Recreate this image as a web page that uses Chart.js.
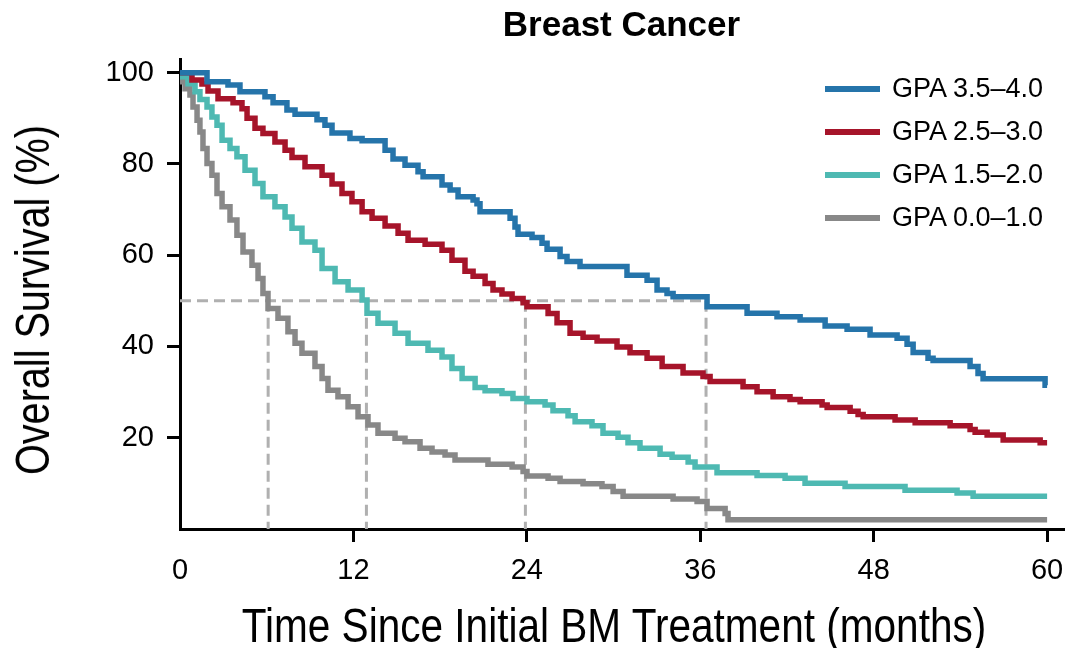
<!DOCTYPE html>
<html>
<head>
<meta charset="utf-8">
<title>Breast Cancer</title>
<script src="https://cdn.jsdelivr.net/npm/chart.js@4.4.1/dist/chart.umd.min.js"></script>
<style>
  html, body { margin: 0; padding: 0; background: #fff; }
  #wrap { position: relative; width: 1071px; height: 648px; }
  #legend {
    position: absolute; left: 825px; top: 67px;
    font: 27px 'Liberation Sans', Arial, sans-serif; color: #000;
  }
  #legend .row { display: flex; align-items: center; height: 43px; }
  #legend .swatch { width: 55px; height: 6px; margin-right: 12px; }
  /* axis titles are set in a condensed cut of the sans face */
  .axis-title {
    position: absolute; white-space: nowrap;
    font: 48px/48px 'Liberation Sans', Arial, sans-serif; color: #000;
  }
  #xTitle { left: 614px; top: 602px; transform: translateX(-50%) scaleX(0.845); }
  #yTitle { left: 33px; top: 300px; transform: translate(-50%, -50%) rotate(-90deg) scaleX(0.825); }
</style>
</head>
<body>
<div id="wrap">
  <canvas id="kmChart" width="1071" height="648"></canvas>
  <div id="legend"></div>
  <div id="xTitle" class="axis-title"></div>
  <div id="yTitle" class="axis-title"></div>
</div>
<script>
// Kaplan-Meier steps: month of each drop and survival (%) after it
var gpa35Months = [0, 1.87, 3.32, 4.15, 5.88, 6.44, 7.40, 7.96, 9.48, 10.03, 10.52, 11.76, 12.60, 14.19, 14.74, 15.57, 16.47, 16.82, 18.13, 18.69, 19.24, 20.28, 20.55, 20.76, 22.84, 23.18, 23.39, 24.36, 25.05, 25.40, 26.30, 26.78, 27.68, 30.93, 32.32, 33.01, 33.70, 34.12, 36.47, 39.24, 41.31, 42.91, 44.64, 46.16, 47.75, 49.62, 50.31, 50.73, 51.76, 52.11, 54.67, 55.22, 55.57, 59.86, 60];
var gpa35Survival = [100, 98.0, 97.3, 95.8, 94.7, 93.4, 91.8, 90.9, 89.7, 88.5, 86.8, 85.6, 85.1, 83.0, 81.1, 79.7, 78.3, 77.2, 75.4, 74.3, 72.8, 72.1, 71.3, 69.5, 68.1, 66.2, 64.6, 63.9, 62.6, 61.3, 59.7, 58.6, 57.5, 55.6, 54.5, 52.4, 51.6, 50.9, 48.7, 47.3, 46.5, 45.8, 44.5, 43.8, 42.5, 41.8, 40.5, 38.7, 37.4, 36.9, 35.6, 34.1, 32.9, 31.5, 31.5];

var gpa25Months = [0, 0.83, 1.52, 1.94, 2.63, 3.67, 4.29, 4.64, 5.19, 5.74, 6.57, 7.27, 7.75, 8.65, 9.83, 10.52, 11.21, 11.90, 12.60, 13.29, 14.19, 15.09, 15.78, 16.96, 18.13, 18.82, 19.72, 20.28, 21.11, 21.66, 22.28, 22.98, 23.74, 24.01, 25.47, 26.09, 26.99, 27.89, 28.86, 30.24, 31.14, 32.32, 33.36, 34.81, 36.19, 36.68, 38.96, 39.93, 41.04, 42.21, 42.91, 44.43, 44.78, 46.37, 46.92, 47.27, 49.48, 50.87, 53.29, 54.67, 55.02, 55.85, 56.96, 59.52, 60];
var gpa25Survival = [100, 98.4, 97.5, 96.0, 94.3, 93.4, 92.1, 90.0, 87.8, 86.7, 84.8, 83.0, 81.4, 79.4, 77.5, 75.6, 73.5, 71.7, 69.5, 68.1, 66.4, 64.8, 63.3, 62.4, 61.1, 58.9, 56.5, 55.4, 53.8, 52.4, 51.5, 50.5, 49.6, 48.7, 47.2, 45.2, 42.9, 42.0, 41.2, 39.9, 38.6, 37.4, 35.6, 34.2, 33.4, 32.3, 31.2, 30.1, 29.0, 28.4, 27.9, 27.2, 26.6, 25.8, 25.1, 24.6, 23.9, 23.3, 22.6, 21.8, 21.2, 20.6, 19.5, 18.9, 18.9];

var gpa15Months = [0, 0.14, 0.55, 1.04, 1.38, 1.87, 2.21, 2.56, 2.91, 3.46, 3.94, 4.50, 5.19, 5.74, 6.57, 7.27, 7.75, 8.44, 9.34, 9.83, 10.73, 11.63, 12.60, 12.94, 13.70, 14.88, 15.78, 17.16, 18.13, 18.82, 19.52, 20.42, 21.11, 22.28, 23.04, 24.01, 25.26, 25.81, 26.85, 27.34, 28.51, 29.27, 30.31, 31.00, 31.83, 33.22, 34.05, 35.16, 35.64, 37.16, 39.93, 41.87, 43.25, 46.02, 50.17, 53.77, 54.88, 60];
var gpa15Survival = [100, 99.1, 97.6, 95.8, 94.1, 92.5, 90.3, 88.5, 85.2, 83.4, 81.6, 78.6, 75.7, 72.8, 70.6, 68.4, 65.9, 62.9, 61.1, 57.1, 54.2, 52.4, 50.2, 47.3, 45.1, 42.9, 40.7, 39.2, 37.7, 35.2, 33.0, 31.0, 30.3, 29.7, 28.6, 27.9, 27.2, 25.9, 24.8, 23.5, 22.6, 21.0, 20.1, 18.9, 17.7, 16.4, 15.7, 14.7, 13.6, 12.3, 11.7, 11.1, 10.0, 9.3, 8.5, 7.9, 7.2, 7.2];

var gpa00Months = [0, 0.07, 0.35, 0.69, 0.90, 1.18, 1.38, 1.59, 1.87, 2.21, 2.56, 2.91, 3.46, 3.94, 4.36, 4.98, 5.40, 5.74, 6.09, 6.78, 7.47, 7.96, 8.44, 9.34, 9.83, 10.24, 10.93, 11.63, 12.32, 13.01, 13.70, 14.88, 15.57, 16.61, 17.44, 18.34, 19.03, 21.31, 22.98, 23.74, 24.01, 25.47, 26.30, 27.89, 29.20, 29.97, 30.66, 34.12, 35.78, 36.47, 37.72, 37.92, 60];
var gpa00Survival = [100, 98.0, 96.5, 95.1, 92.5, 89.6, 87.0, 83.4, 80.1, 77.5, 73.5, 70.6, 67.7, 64.4, 60.7, 57.8, 54.9, 51.6, 48.3, 46.2, 43.2, 40.7, 38.5, 35.6, 33.0, 30.4, 29.0, 26.8, 24.6, 22.8, 21.0, 19.9, 19.1, 17.7, 16.9, 16.2, 15.1, 14.2, 13.6, 12.6, 11.6, 11.1, 10.4, 9.9, 9.3, 8.2, 7.2, 6.6, 6.0, 4.5, 3.4, 2.0, 2.0];

// median survival per group (months), read where each curve crosses 50 %
var medianMonths = [6.1, 12.9, 23.9, 36.4];

var seriesLabels = ['GPA 3.5\u20134.0', 'GPA 2.5\u20133.0', 'GPA 1.5\u20132.0', 'GPA 0.0\u20131.0'];
var seriesColors = ['#2574AA', '#A6142A', '#4EB9B2', '#888888'];
var xTickValues = [0, 12, 24, 36, 48, 60];
var yTickValues = [20, 40, 60, 80, 100];
var xAxisTitle = 'Time Since Initial BM Treatment (months)';
var yAxisTitle = 'Overall Survival (%)';

var sansFont = "'Liberation Sans', Arial, sans-serif";

function toPoints(months, values) {
    return months.map(function (m, i) { return { x: m, y: values[i] }; });
}

document.addEventListener('DOMContentLoaded', function () {
    var curves = [
        toPoints(gpa35Months, gpa35Survival),
        toPoints(gpa25Months, gpa25Survival),
        toPoints(gpa15Months, gpa15Survival),
        toPoints(gpa00Months, gpa00Survival)
    ];

    // each point is (event month, new survival): hold the old level, then drop
    var datasets = curves.map(function (pts, i) {
        return {
            label: seriesLabels[i],
            data: pts,
            borderColor: seriesColors[i],
            backgroundColor: seriesColors[i],
            borderWidth: 5.5,
            stepped: 'before',
            pointRadius: 0,
            fill: false,
            order: i
        };
    });

    // dashed guides at 50 % and down from each median
    var dashStyle = {
        borderColor: '#B0B0B0',
        borderWidth: 3,
        borderDash: [11, 6],
        pointRadius: 0,
        fill: false,
        order: 10
    };
    datasets.push(Object.assign({
        label: 'median',
        data: [{ x: 0, y: 50 }, { x: medianMonths[medianMonths.length - 1], y: 50 }]
    }, dashStyle));
    medianMonths.forEach(function (m) {
        datasets.push(Object.assign({
            label: 'median',
            data: [{ x: m, y: 50 }, { x: m, y: 0 }]
        }, dashStyle));
    });

    var ctx = document.getElementById('kmChart').getContext('2d');
    new Chart(ctx, {
        type: 'line',
        data: { datasets: datasets },
        options: {
            responsive: false,
            animation: false,
            events: [],
            layout: { padding: { left: 0, right: 8, top: 0, bottom: 0 } },
            scales: {
                x: {
                    type: 'linear',
                    min: 0,
                    max: 61.1,
                    afterBuildTicks: function (scale) {
                        scale.ticks = xTickValues.map(function (v) { return { value: v }; });
                    },
                    afterFit: function (scale) {
                        scale.height = 119;
                        scale.paddingLeft = 0;
                        scale.paddingRight = 0;
                    },
                    border: { display: true, color: '#000', width: 3 },
                    grid: {
                        drawOnChartArea: false,
                        drawTicks: true,
                        tickLength: 13,
                        lineWidth: 3,
                        color: '#000',
                        tickColor: function (c) {
                            return c.tick && c.tick.value === 0 ? 'rgba(0,0,0,0)' : '#000';
                        }
                    },
                    ticks: {
                        color: '#000',
                        padding: 12,
                        maxRotation: 0,
                        font: { family: sansFont, size: 29 }
                    }
                },
                y: {
                    min: 0,
                    max: 103,
                    afterBuildTicks: function (scale) {
                        scale.ticks = yTickValues.map(function (v) { return { value: v }; });
                    },
                    afterFit: function (scale) {
                        scale.width = 180;
                        scale.paddingTop = 0;
                        scale.paddingBottom = 0;
                    },
                    border: { display: true, color: '#000', width: 3 },
                    grid: {
                        drawOnChartArea: false,
                        drawTicks: true,
                        tickLength: 13,
                        lineWidth: 3,
                        color: '#000'
                    },
                    ticks: {
                        color: '#000',
                        padding: 13,
                        font: { family: sansFont, size: 29 }
                    }
                }
            },
            plugins: {
                legend: { display: false },
                tooltip: { enabled: false },
                title: {
                    display: true,
                    text: 'Breast Cancer',
                    color: '#000',
                    fullSize: false,
                    padding: { top: 5, bottom: 12 },
                    font: { family: sansFont, size: 35, weight: 'bold', lineHeight: 1.2 }
                }
            }
        }
    });

    document.getElementById('xTitle').textContent = xAxisTitle;
    document.getElementById('yTitle').textContent = yAxisTitle;

    // legend drawn beside the curves, top right of the plot
    var legend = document.getElementById('legend');
    seriesLabels.forEach(function (label, i) {
        var row = document.createElement('div');
        row.className = 'row';
        var swatch = document.createElement('span');
        swatch.className = 'swatch';
        swatch.style.background = seriesColors[i];
        var text = document.createElement('span');
        text.textContent = label;
        row.appendChild(swatch);
        row.appendChild(text);
        legend.appendChild(row);
    });
});
</script>
</body>
</html>
